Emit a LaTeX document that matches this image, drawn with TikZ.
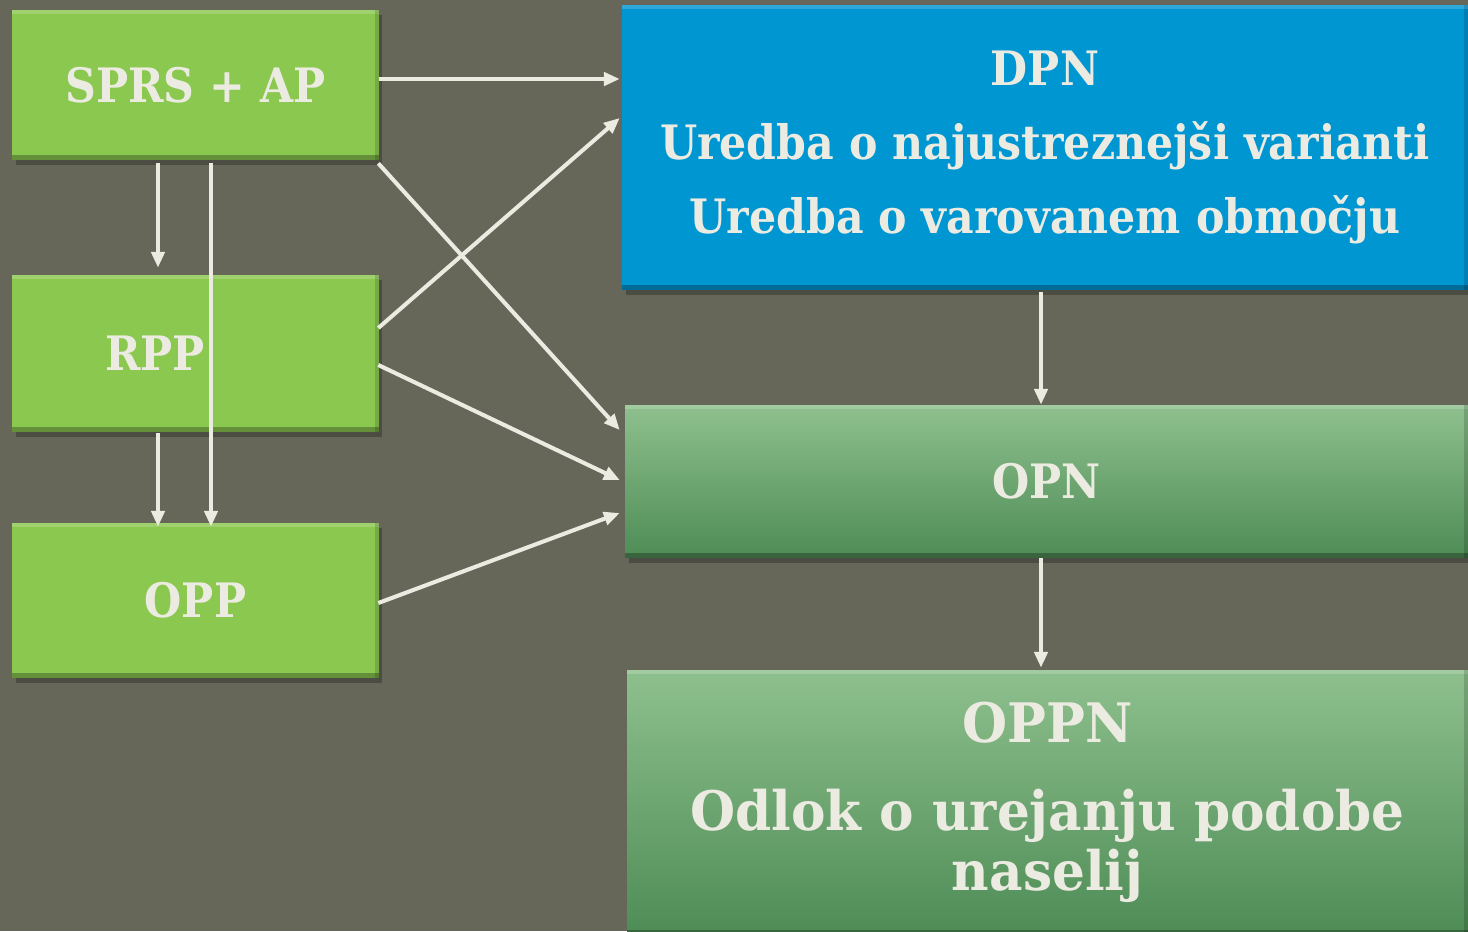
\documentclass[tikz,border=0pt]{standalone}
\usepackage{fontspec}
\setmainfont[FakeStretch=0.9]{DejaVu Serif}
\newfontfamily\narrowfont[FakeStretch=0.95]{DejaVu Serif}
\usetikzlibrary{arrows.meta,shadows}

\definecolor{bgcol}{RGB}{102,103,89}
\definecolor{txtcol}{RGB}{236,235,226}
\definecolor{limegreen}{RGB}{139,200,80}
\definecolor{skyblue}{RGB}{0,150,210}
\definecolor{sagetop}{RGB}{142,192,142}
\definecolor{sagebot}{RGB}{78,140,86}

\tikzset{
  box/.style={rectangle, draw=none, text=txtcol, align=center,
    font=\bfseries\fontsize{27}{33}\selectfont,
    drop shadow={shadow xshift=2pt, shadow yshift=-3pt, opacity=0.25, fill=black},
    path picture={
      \fill[white, opacity=0.18] (path picture bounding box.north west) rectangle ([yshift=-2.5pt]path picture bounding box.north east);
      \fill[black, opacity=0.28] (path picture bounding box.south west) rectangle ([yshift=3pt]path picture bounding box.south east);
      \fill[black, opacity=0.15] (path picture bounding box.north east) rectangle ([xshift=-2pt]path picture bounding box.south east);}},
  leftbox/.style={box, fill=limegreen, minimum width=7.34cm},
  bluebox/.style={box, fill=skyblue},
  sagebox/.style={box, top color=sagetop, bottom color=sagebot},
  arr/.style={draw=txtcol, line width=2.3pt, -{Triangle[length=9pt,width=7.5pt]}},
}

\begin{document}
\begin{tikzpicture}[x=0.02cm, y=-0.02cm]
  \useasboundingbox (0,0) rectangle (1468,931);
  \clip (0,0) rectangle (1468,931);
  \fill[bgcol] (0,0) rectangle (1468,931);

  % left column
  \node[leftbox, minimum height=3cm] (sprs) at (195.5,85) {SPRS + AP};
  \node[leftbox, minimum height=3.14cm] (rpp) at (195.5,353.5) {RPP\hspace*{1.62cm}};
  \node[leftbox, minimum height=3.1cm] (opp) at (195.5,600.5) {OPP};

  % right column
  \node[bluebox, minimum width=16.92cm, minimum height=5.7cm] (dpn) at (1045,147.5)
    {DPN\\[9pt] Uredba o najustreznejši varianti\\[9pt] Uredba o varovanem območju};
  \node[sagebox, minimum width=16.86cm, minimum height=3.06cm] (opn) at (1046.5,481.5) {OPN};
  \node[sagebox, minimum width=16.82cm, minimum height=5.3cm,
    font=\narrowfont\bfseries\fontsize{31}{34}\selectfont] (oppn) at (1047.5,802.5)
    {OPPN\\[16pt] Odlok o urejanju podobe\\ naselij};

  % connectors
  \draw[arr] ([shift={(0,-6)}]sprs.east) -- ([shift={(-2,-68.5)}]dpn.west);
  \draw[arr] ([shift={(-37.5,3)}]sprs.south) -- ([shift={(-37.5,-7)}]rpp.north);
  \draw[arr] ([shift={(15.5,3)}]sprs.south) -- ([shift={(15.5,4)}]opp.north);
  \draw[arr] ([shift={(-1,3)}]sprs.south east) -- ([shift={(-5,-51.5)}]opn.west);
  \draw[arr] ([shift={(-1,-25.5)}]rpp.east) -- ([shift={(-2,-29.5)}]dpn.west);
  \draw[arr] ([shift={(-1,11.5)}]rpp.east) -- ([shift={(-5,-1.5)}]opn.west);
  \draw[arr] ([shift={(-37.5,1)}]rpp.south) -- ([shift={(-37.5,4)}]opp.north);
  \draw[arr] ([shift={(-1,2.5)}]opp.east) -- ([shift={(-5,31.5)}]opn.west);
  \draw[arr] ([shift={(-4,2)}]dpn.south) -- ([shift={(-5.5,0)}]opn.north);
  \draw[arr] ([shift={(-5.5,0)}]opn.south) -- ([shift={(-6.5,-2)}]oppn.north);
\end{tikzpicture}
\end{document}
